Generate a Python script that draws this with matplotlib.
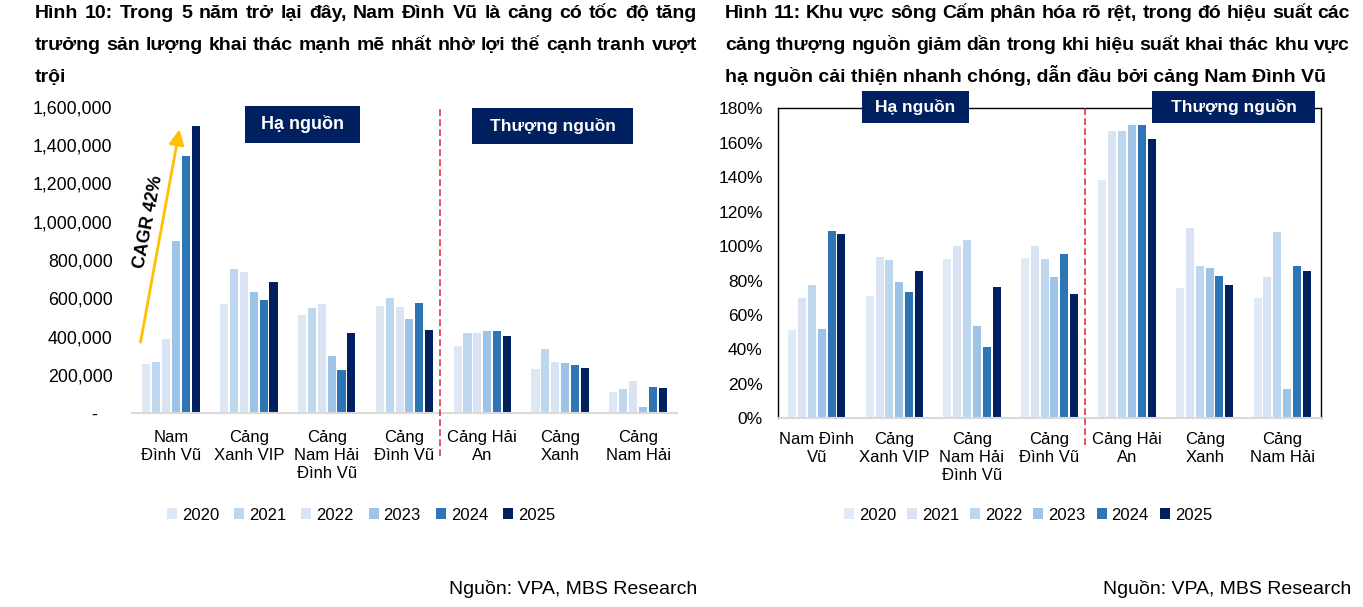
import matplotlib
matplotlib.use("Agg")
import matplotlib.pyplot as plt
from matplotlib.patches import Rectangle, Patch
import numpy as np

plt.rcParams['font.family'] = ['Liberation Sans', 'DejaVu Sans']

years = ['2020', '2021', '2022', '2023', '2024', '2025']

left_categories = ['Nam\nĐình Vũ', 'Cảng\nXanh VIP', 'Cảng\nNam Hải\nĐình Vũ', 'Cảng\nĐình Vũ',
                   'Cảng Hải\nAn', 'Cảng\nXanh', 'Cảng\nNam Hải']
right_categories = ['Nam Đình\nVũ', 'Cảng\nXanh VIP', 'Cảng\nNam Hải\nĐình Vũ', 'Cảng\nĐình Vũ',
                    'Cảng Hải\nAn', 'Cảng\nXanh', 'Cảng\nNam Hải']

# Throughput (TEU) per port, by year 2020..2025
volume_2020 = [255000, 571000, 513000, 560000, 349000, 232000, 110000]
volume_2021 = [267000, 752000, 550000, 602000, 419000, 337000, 124000]
volume_2022 = [386000, 738000, 571000, 555000, 419000, 267000, 166000]
volume_2023 = [897000, 634000, 298000, 494000, 429000, 263000, 30000]
volume_2024 = [1346000, 592000, 225000, 574000, 429000, 251000, 138000]
volume_2025 = [1499000, 686000, 419000, 435000, 405000, 237000, 129000]

# Utilisation (%) per port, by year 2020..2025
util_2020 = [51, 71, 92.5, 93, 138.6, 75.8, 70]
util_2021 = [70, 93.7, 100, 100, 166.7, 110.7, 82]
util_2022 = [77.4, 92, 103.5, 92.5, 166.7, 88.6, 108.2]
util_2023 = [52, 79.3, 53.4, 82, 170.5, 87.3, 17]
util_2024 = [108.8, 73.3, 41.2, 95.4, 170.5, 82.5, 88.6]
util_2025 = [107.2, 85.7, 76.1, 72.2, 162.2, 77.4, 85.4]

left_yticks = [0, 200000, 400000, 600000, 800000, 1000000, 1200000, 1400000, 1600000]
right_yticks = [0, 20, 40, 60, 80, 100, 120, 140, 160, 180]

left_colors = ['#DDE8F4', '#BDD7EE', '#DAE3F3', '#9DC3E6', '#2E75B6', '#002060']
right_colors = ['#DEEBF7', '#DAE3F3', '#BDD7EE', '#9DC3E6', '#2E75B6', '#002060']

left_title = ['Hình 10: Trong 5 năm trở lại đây, Nam Đình Vũ là cảng có tốc độ tăng',
              'trưởng sản lượng khai thác mạnh mẽ nhất nhờ lợi thế cạnh tranh vượt',
              'trội']
right_title = ['Hình 11: Khu vực sông Cấm phân hóa rõ rệt, trong đó hiệu suất các',
               'cảng thượng nguồn giảm dần trong khi hiệu suất khai thác khu vực',
               'hạ nguồn cải thiện nhanh chóng, dẫn đầu bởi cảng Nam Đình Vũ']

W, H = 1363, 607
fig = plt.figure(figsize=(W / 100, H / 100), dpi=100)
renderer = fig.canvas.get_renderer()

def fx(px):
    return px / W

def fy(py):
    return 1 - py / H

axL = fig.add_axes([fx(132), fy(413), fx(677) - fx(132), fy(107) - fy(413)])
axR = fig.add_axes([fx(778), fy(418.3), fx(1321) - fx(778), fy(108.3) - fy(418.3)])

slot = 0.127
bw = 0.104
x = np.arange(len(left_categories))

left_series = [volume_2020, volume_2021, volume_2022, volume_2023, volume_2024, volume_2025]
right_series = [util_2020, util_2021, util_2022, util_2023, util_2024, util_2025]

for j, (vals, c) in enumerate(zip(left_series, left_colors)):
    axL.bar(x + (j - 2.5) * slot, vals, width=bw, color=c, zorder=2)
for j, (vals, c) in enumerate(zip(right_series, right_colors)):
    axR.bar(x + (j - 2.5) * slot, vals, width=bw, color=c, zorder=2)

# Left axes styling
axL.set_xlim(-0.5, 6.5)
axL.set_ylim(0, 1600000)
axL.set_yticks(left_yticks)
axL.set_yticklabels(['-   '] + [f'{v:,}' for v in left_yticks[1:]], fontsize=12.8)
axL.tick_params(axis='y', length=0, pad=14)
axL.set_xticks(x)
axL.set_xticklabels(left_categories, fontsize=12, linespacing=1.25)
axL.tick_params(axis='x', length=0, pad=12)
for s in ['top', 'right', 'left']:
    axL.spines[s].set_visible(False)
axL.spines['bottom'].set_color('#D9D9D9')
axL.spines['bottom'].set_linewidth(1.5)

# Right axes styling
axR.set_xlim(-0.5, 6.5)
axR.set_ylim(0, 180)
axR.set_yticks(right_yticks)
axR.set_yticklabels([f'{v}%' for v in right_yticks], fontsize=12.5)
axR.tick_params(axis='y', length=0, pad=11)
axR.set_xticks(x)
axR.set_xticklabels(right_categories, fontsize=12, linespacing=1.25)
axR.tick_params(axis='x', length=0, pad=10)
for s in ['top', 'right', 'left']:
    axR.spines[s].set_color('#000000')
    axR.spines[s].set_linewidth(1.0)
axR.spines['bottom'].set_color('#D9D9D9')
axR.spines['bottom'].set_linewidth(1.5)

# Red dashed dividers
axL.plot([3.45, 3.45], [-0.14, 1.0], transform=axL.get_xaxis_transform(), color='#E0324B',
         ls=(0, (4, 2)), lw=1.2, clip_on=False, zorder=3)
axR.plot([3.455, 3.455], [-0.085, 1.0], transform=axR.get_xaxis_transform(), color='#E0324B',
         ls=(0, (4, 2)), lw=1.2, clip_on=False, zorder=3)

# CAGR arrow
axL.annotate('', xy=(0.116, 1497000), xytext=(-0.397, 356000),
             arrowprops=dict(arrowstyle='-|>,head_width=0.45,head_length=0.9',
                             color='#FFC000', lw=2), zorder=4)
axL.text(-0.29, 1000000, 'CAGR 42%', rotation=79, ha='center', va='center',
         fontsize=13, fontweight='bold', color='#000000', zorder=5)

# Region boxes
def box(x0, y0, x1, y1, label, size):
    r = Rectangle((fx(x0), fy(y1)), fx(x1) - fx(x0), fy(y0) - fy(y1),
                  transform=fig.transFigure, facecolor='#002060', edgecolor='none', zorder=10)
    fig.patches.append(r)
    fig.text(fx((x0 + x1) / 2), fy((y0 + y1) / 2), label, ha='center', va='center',
             color='white', fontsize=size, fontweight='bold', zorder=11)

box(245, 106, 360, 143, 'Hạ nguồn', 13)
box(472, 108, 633, 144, 'Thượng nguồn', 12.5)
box(862, 91, 969, 123, 'Hạ nguồn', 12.5)
box(1152, 91, 1315, 123, 'Thượng nguồn', 12.5)

# Titles (first two lines justified)
title_font = dict(fontsize=14, fontweight='bold', va='baseline', ha='left', color='#000000')

def justified_line(line, x0, x1, y):
    words = line.split(' ')
    texts = [fig.text(0, fy(y), w, **title_font) for w in words]
    widths = [t.get_window_extent(renderer).width for t in texts]
    total = sum(widths)
    gap = (x1 - x0 - total) / (len(words) - 1)
    pos = x0
    for t, wd in zip(texts, widths):
        t.set_x(fx(pos))
        pos += wd + gap

for i, line in enumerate(left_title):
    y = 18 + 32 * i
    if i < 2:
        justified_line(line, 35, 697, y)
    else:
        fig.text(fx(35), fy(y), line, **title_font)
for i, line in enumerate(right_title):
    y = 18 + 32 * i
    if i < 2:
        justified_line(line, 725, 1350, y)
    else:
        fig.text(fx(725), fy(y), line, **title_font)

# Legends
hL = [Patch(facecolor=c, edgecolor='none', label=y) for c, y in zip(left_colors, years)]
hR = [Patch(facecolor=c, edgecolor='none', label=y) for c, y in zip(right_colors, years)]
leg_kw = dict(ncol=6, frameon=False, fontsize=12, handlelength=0.6, handleheight=0.6,
              handletextpad=0.3, loc='center')
fig.legend(handles=hL, bbox_to_anchor=(fx(361), fy(515)), columnspacing=0.9, **leg_kw)
fig.legend(handles=hR, bbox_to_anchor=(fx(1028), fy(515)), columnspacing=0.65, **leg_kw)

# Sources
fig.text(fx(697), fy(589), 'Nguồn: VPA, MBS Research', ha='right', va='center', fontsize=14)
fig.text(fx(1351), fy(589), 'Nguồn: VPA, MBS Research', ha='right', va='center', fontsize=14)

fig.savefig('out.png', dpi=100)
